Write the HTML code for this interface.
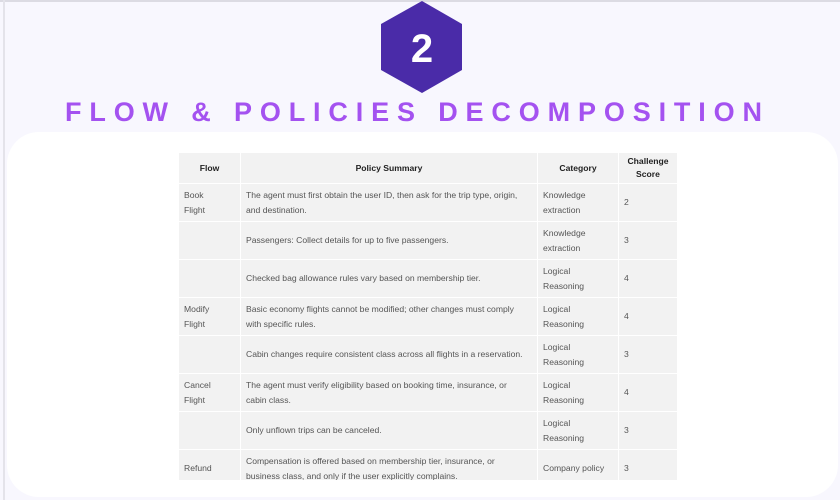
<!DOCTYPE html>
<html><head><meta charset="utf-8"><style>
html,body{margin:0;padding:0;}
body{width:840px;height:500px;position:relative;overflow:hidden;background:#f8f7fe;font-family:"Liberation Sans",sans-serif;}
#topline{position:absolute;left:0;top:0;width:840px;height:2px;background:#dcdbe3;}
#leftline{position:absolute;left:3px;top:0;width:2px;height:500px;background:#e4e3ea;}
#card{position:absolute;left:7px;top:132px;width:831px;height:365px;background:#fff;border-radius:32px;}
#tbl{position:absolute;left:178px;top:152px;width:499px;height:328px;overflow:hidden;background:#f2f2f2;}
table{border-collapse:collapse;width:499px;table-layout:fixed;font-size:8.6px;color:#555;}
td,th{border:1px solid #fff;padding:0 5px;line-height:15px;vertical-align:middle;text-align:left;}
th{color:#222;font-weight:bold;text-align:center;height:30px;line-height:13px;}
td{height:37px;}
</style></head><body>
<div id="topline"></div>
<div id="leftline"></div>
<svg style="position:absolute;left:0;top:0" width="840" height="132">
<polygon points="422,1 462,24 462,70 422,93 381,70 381,24" fill="#4a2ba8"/>
<text x="422" y="62" text-anchor="middle" font-family="Liberation Sans" font-weight="bold" font-size="40" fill="#fff">2</text>
<text x="65" y="121" textLength="697" lengthAdjust="spacing" font-family="Liberation Sans" font-weight="bold" font-size="27" fill="#a452f0">FLOW &amp; POLICIES DECOMPOSITION</text>
</svg>
<div id="card"></div>
<div id="tbl">
<table>
<colgroup><col style="width:62px"><col style="width:297px"><col style="width:81px"><col style="width:59px"></colgroup>
<tr><th>Flow</th><th>Policy Summary</th><th>Category</th><th>Challenge<br>Score</th></tr>
<tr><td>Book<br>Flight</td><td>The agent must first obtain the user ID, then ask for the trip type, origin,<br>and destination.</td><td>Knowledge extraction</td><td>2</td></tr>
<tr><td></td><td>Passengers: Collect details for up to five passengers.</td><td>Knowledge extraction</td><td>3</td></tr>
<tr><td></td><td>Checked bag allowance rules vary based on membership tier.</td><td>Logical Reasoning</td><td>4</td></tr>
<tr><td>Modify<br>Flight</td><td>Basic economy flights cannot be modified; other changes must comply<br>with specific rules.</td><td>Logical Reasoning</td><td>4</td></tr>
<tr><td></td><td>Cabin changes require consistent class across all flights in a reservation.</td><td>Logical Reasoning</td><td>3</td></tr>
<tr><td>Cancel<br>Flight</td><td>The agent must verify eligibility based on booking time, insurance, or<br>cabin class.</td><td>Logical Reasoning</td><td>4</td></tr>
<tr><td></td><td>Only unflown trips can be canceled.</td><td>Logical Reasoning</td><td>3</td></tr>
<tr><td>Refund</td><td>Compensation is offered based on membership tier, insurance, or<br>business class, and only if the user explicitly complains.</td><td>Company policy</td><td>3</td></tr>
</table>
</div>
</body></html>
